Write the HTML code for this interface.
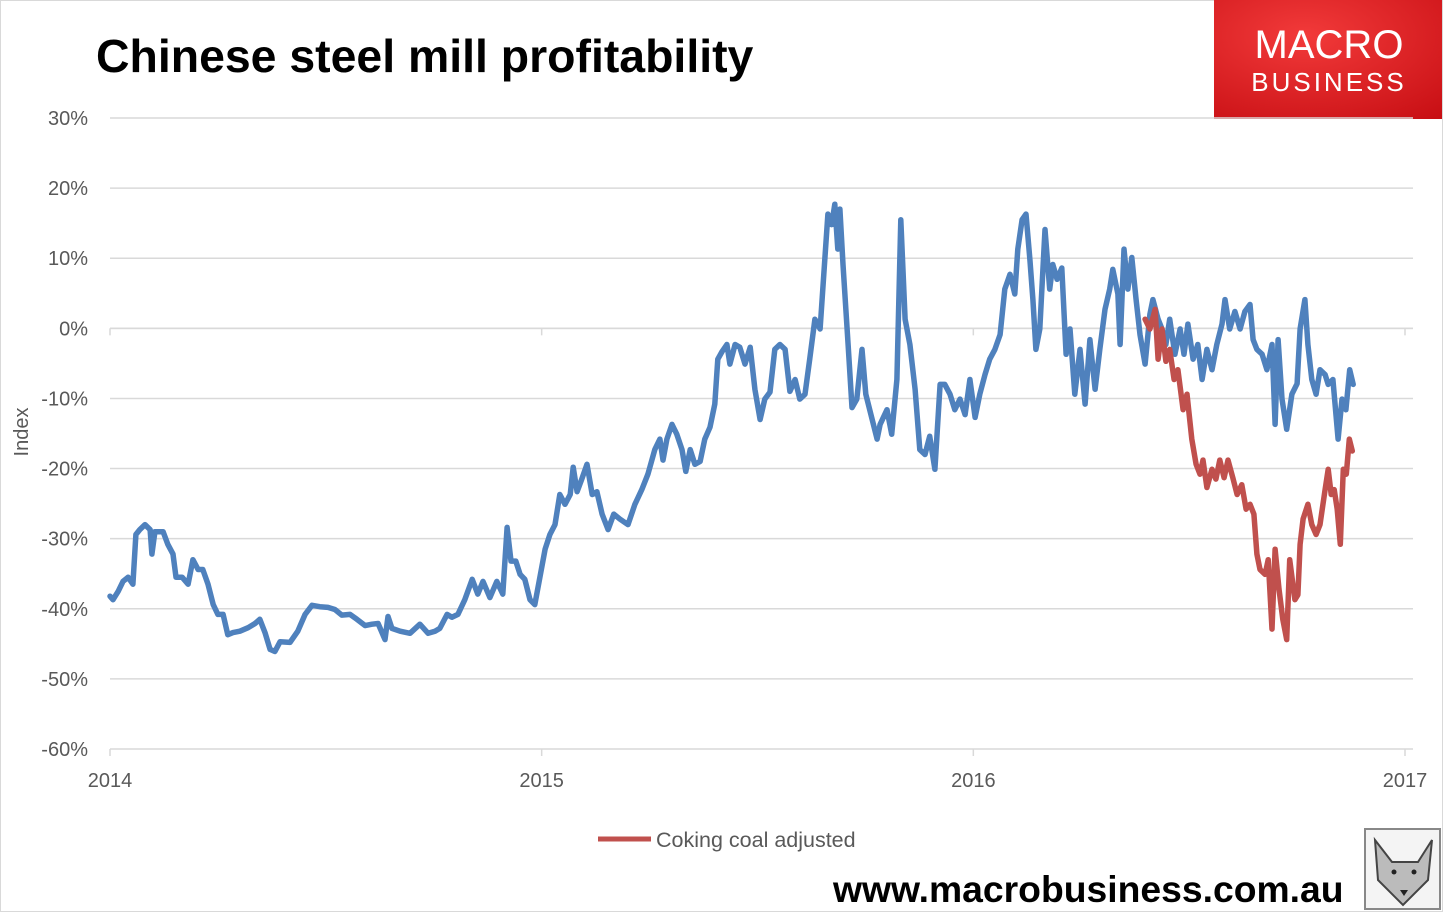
<!DOCTYPE html>
<html><head><meta charset="utf-8">
<style>
body{margin:0;width:1443px;height:912px;overflow:hidden;background:#fff;font-family:"Liberation Sans",sans-serif;}
#wrap{position:relative;width:1443px;height:912px;}
</style></head>
<body>
<div id="wrap">
<svg id="chart" width="1443" height="912" xmlns="http://www.w3.org/2000/svg">
  <rect x="0.5" y="0.5" width="1442" height="911" fill="#fff" stroke="#d9d9d9"/>
  <text x="96" y="72" font-family="Liberation Sans, sans-serif" font-weight="bold" font-size="46.4" fill="#000">Chinese steel mill profitability</text>
  <g>
    <defs><radialGradient id="lg" cx="0.4" cy="0.3" r="0.9"><stop offset="0" stop-color="#f23a3a"/><stop offset="1" stop-color="#c80f14"/></radialGradient></defs>
    <rect x="1214" y="0" width="228" height="119" fill="url(#lg)"/>
    <text x="1329" y="58" text-anchor="middle" font-size="40" fill="#fff" font-family="Liberation Sans, sans-serif">MACRO</text>
    <text x="1329" y="91" text-anchor="middle" font-size="26" letter-spacing="3" fill="#fff" font-family="Liberation Sans, sans-serif">BUSINESS</text>
  </g>
  <g id="grid"></g>
  <g id="yticks"></g>
  <g id="xaxis"></g>
  <text x="28" y="432" transform="rotate(-90 28 432)" text-anchor="middle" font-size="20" fill="#595959">Index</text>
  <g id="series"></g>
  <g>
    <line x1="598" y1="839" x2="651" y2="839" stroke="#C0504D" stroke-width="5"/>
    <text x="656" y="847" font-size="21.5" fill="#595959">Coking coal adjusted</text>
  </g>
  <text x="833" y="902" font-size="37.3" font-weight="bold" fill="#000">www.macrobusiness.com.au</text>
  <g>
    <rect x="1365" y="829" width="75" height="80" fill="#f4f4f4" stroke="#888" stroke-width="2"/>
    <path d="M1375 840 L1392 862 L1418 862 L1432 840 L1428 880 L1403 905 L1378 880 Z" fill="#bbb" stroke="#444" stroke-width="2"/>
    <circle cx="1394" cy="872" r="2.5" fill="#222"/><circle cx="1414" cy="872" r="2.5" fill="#222"/>
    <path d="M1400 890 L1404 896 L1408 890 Z" fill="#222"/>
  </g>
</svg>
</div>
<script>
// data: years since 2014 and values in %
const yTickVals = [30,20,10,0,-10,-20,-30,-40,-50,-60];
const xTickYears = [2014,2015,2016,2017];
const blueT = [0,.007,.019,.030,.042,.053,.060,.069,.081,.093,.097,.104,.123,.134,.146,.153,.167,.181,.192,.204,.215,.227,.239,.250,.262,.273,.285,.301,.320,.336,.347,.359,.371,.382,.394,.417,.435,.452,.468,.486,.505,.521,.537,.556,.572,.591,.607,.621,.637,.644,.653,.672,.695,.718,.737,.753,.764,.781,.792,.806,.822,.839,.852,.864,.880,.896,.910,.920,.929,.940,.950,.961,.973,.984,.996,1.008,1.019,1.031,1.042,1.054,1.066,1.073,1.082,1.093,1.105,1.117,1.128,1.140,1.154,1.167,1.181,1.200,1.216,1.232,1.246,1.262,1.274,1.281,1.290,1.302,1.313,1.325,1.334,1.344,1.355,1.367,1.378,1.390,1.401,1.408,1.418,1.429,1.436,1.448,1.459,1.471,1.483,1.494,1.506,1.517,1.529,1.540,1.552,1.564,1.575,1.587,1.598,1.610,1.621,1.633,1.645,1.656,1.663,1.672,1.679,1.686,1.691,1.698,1.710,1.719,1.730,1.742,1.751,1.760,1.777,1.784,1.800,1.811,1.823,1.832,1.842,1.853,1.865,1.876,1.888,1.899,1.911,1.923,1.934,1.946,1.957,1.969,1.981,1.992,2.004,2.015,2.027,2.038,2.050,2.062,2.073,2.085,2.096,2.103,2.113,2.122,2.131,2.138,2.145,2.154,2.166,2.177,2.184,2.194,2.205,2.215,2.224,2.235,2.247,2.259,2.270,2.282,2.293,2.305,2.316,2.323,2.335,2.340,2.349,2.358,2.367,2.377,2.386,2.398,2.409,2.416,2.428,2.437,2.446,2.455,2.467,2.479,2.488,2.497,2.509,2.520,2.530,2.541,2.553,2.564,2.576,2.583,2.594,2.606,2.618,2.629,2.641,2.648,2.657,2.669,2.680,2.692,2.699,2.706,2.715,2.726,2.738,2.750,2.757,2.768,2.775,2.784,2.794,2.803,2.815,2.822,2.833,2.845,2.854,2.863,2.872,2.880];
const blueV = [-38.2,-38.7,-37.5,-36.1,-35.5,-36.5,-29.4,-28.7,-28.0,-28.7,-32.2,-29.0,-29.0,-30.8,-32.2,-35.5,-35.5,-36.5,-33.0,-34.4,-34.4,-36.5,-39.4,-40.8,-40.8,-43.7,-43.4,-43.2,-42.7,-42.1,-41.5,-43.4,-45.8,-46.1,-44.7,-44.8,-43.2,-40.8,-39.5,-39.7,-39.8,-40.1,-40.9,-40.8,-41.5,-42.4,-42.2,-42.1,-44.4,-41.1,-42.8,-43.2,-43.5,-42.2,-43.5,-43.2,-42.8,-40.8,-41.2,-40.8,-38.7,-35.8,-37.9,-36.1,-38.4,-36.1,-37.9,-28.4,-33.2,-33.2,-35.1,-35.8,-38.7,-39.4,-35.5,-31.5,-29.4,-28.0,-23.7,-25.1,-23.7,-19.8,-23.3,-21.5,-19.4,-23.7,-23.3,-26.5,-28.7,-26.5,-27.2,-28.0,-25.1,-23.0,-20.8,-17.3,-15.8,-18.8,-15.8,-13.7,-15.1,-17.3,-20.4,-17.3,-19.4,-19.0,-15.8,-14.1,-10.8,-4.4,-3.3,-2.3,-5.1,-2.3,-2.7,-5.1,-2.7,-8.7,-13.0,-10.1,-9.1,-3.0,-2.3,-3.0,-9.0,-7.3,-10.1,-9.4,-4.4,1.3,-0.1,9.8,16.3,14.8,17.7,11.3,17.0,9.1,-2.3,-11.3,-10.1,-3.0,-9.4,-11.6,-15.8,-13.7,-11.6,-15.1,-7.3,15.5,1.3,-2.3,-8.7,-17.3,-18.0,-15.4,-20.1,-8.0,-8.0,-9.4,-11.6,-10.1,-12.3,-7.3,-12.7,-9.4,-6.6,-4.4,-3.0,-0.9,5.6,7.7,4.9,11.3,15.5,16.3,9.8,4.1,-3.0,-0.1,14.1,5.6,9.1,7.0,8.6,-3.7,-0.1,-9.4,-3.0,-10.8,-1.6,-8.7,-3.0,2.7,5.6,8.4,4.9,-2.3,11.3,5.6,10.1,4.1,-0.9,-5.1,2.0,4.1,1.3,-0.1,-2.3,1.3,-3.7,-0.1,-3.7,0.6,-4.4,-2.3,-7.3,-3.0,-5.9,-2.3,0.6,4.1,-0.1,2.4,-0.1,2.4,3.4,-1.6,-3.0,-3.7,-5.9,-2.3,-13.7,-1.6,-10.1,-14.4,-9.4,-7.9,-0.1,4.1,-2.3,-7.3,-9.4,-5.9,-6.6,-8.0,-7.3,-15.8,-10.1,-11.6,-5.9,-8.0];
const redT = [2.398,2.409,2.421,2.428,2.437,2.446,2.455,2.465,2.474,2.486,2.495,2.506,2.516,2.525,2.532,2.541,2.553,2.562,2.571,2.581,2.590,2.601,2.611,2.622,2.632,2.641,2.650,2.657,2.664,2.676,2.683,2.692,2.699,2.708,2.717,2.726,2.733,2.745,2.752,2.757,2.764,2.775,2.784,2.794,2.803,2.815,2.822,2.829,2.836,2.843,2.850,2.857,2.864,2.871,2.878];
const redV = [1.3,-0.1,2.7,-4.4,-0.1,-4.7,-3.0,-7.3,-5.9,-11.6,-9.4,-15.8,-19.4,-20.8,-18.8,-22.7,-20.1,-21.5,-18.8,-21.3,-18.8,-21.3,-23.7,-22.3,-25.8,-25.1,-26.5,-32.2,-34.4,-35.1,-33.0,-42.9,-31.5,-37.2,-41.5,-44.4,-33.0,-38.7,-38.0,-30.8,-27.2,-25.1,-28.0,-29.4,-28.0,-23.0,-20.1,-23.7,-23.0,-25.8,-30.8,-20.1,-20.8,-15.8,-17.5];

const NS='http://www.w3.org/2000/svg';
const plotL=110, plotR=1413, yTop=118, yBot=749;
function xScale(yearsSince){ return plotL + yearsSince*(1405-plotL)/3; }
function yScale(v){ return yBot - (v+60)*(yBot-yTop)/90; }
function mk(tag, attrs, parent){ const e=document.createElementNS(NS,tag); for(const k in attrs) e.setAttribute(k,attrs[k]); parent.appendChild(e); return e; }

const grid=document.getElementById('grid'), yt=document.getElementById('yticks'), xa=document.getElementById('xaxis'), ser=document.getElementById('series');
yTickVals.forEach(v=>{
  const y=yScale(v);
  if(v!==-60){ const g=mk('line',{x1:plotL,x2:plotR,y1:y,y2:y,stroke:'#d9d9d9','stroke-width':1.5},grid);
    
     }
  const t=mk('text',{x:88,y:y+7,'text-anchor':'end','font-size':20,fill:'#595959'},yt);
  
  
  t.textContent=v+'%';
});
const ax=mk('line',{x1:plotL,x2:plotR,y1:yBot,y2:yBot,stroke:'#d9d9d9','stroke-width':1.5},xa);


const zl=mk('line',{x1:plotL,x2:plotR,y1:yScale(0),y2:yScale(0),stroke:'#d9d9d9','stroke-width':1.5},xa);


xTickYears.forEach(yr=>{
  const x=xScale(yr-2014);
  const tk=mk('line',{x1:x,x2:x,y1:yBot,y2:yBot+7,stroke:'#d9d9d9','stroke-width':1.5},xa);
  
  
  const zt=mk('line',{x1:x,x2:x,y1:yScale(0),y2:yScale(0)+7,stroke:'#d9d9d9','stroke-width':1.5},xa);
  
  
  const t=mk('text',{x:x,y:787,'text-anchor':'middle','font-size':20,fill:'#595959'},xa);
  
  
  t.textContent=yr;
});
function path(T,V){ return T.map((t,i)=>(i?'L':'M')+xScale(t).toFixed(1)+' '+yScale(V[i]).toFixed(1)).join(' '); }
const pb=mk('path',{d:path(blueT,blueV),fill:'none',stroke:'#4F81BD','stroke-width':5.5,'stroke-linejoin':'round','stroke-linecap':'round'},ser);


const pr=mk('path',{d:path(redT,redV),fill:'none',stroke:'#C0504D','stroke-width':5.5,'stroke-linejoin':'round','stroke-linecap':'round'},ser);


</script>
</body></html>
